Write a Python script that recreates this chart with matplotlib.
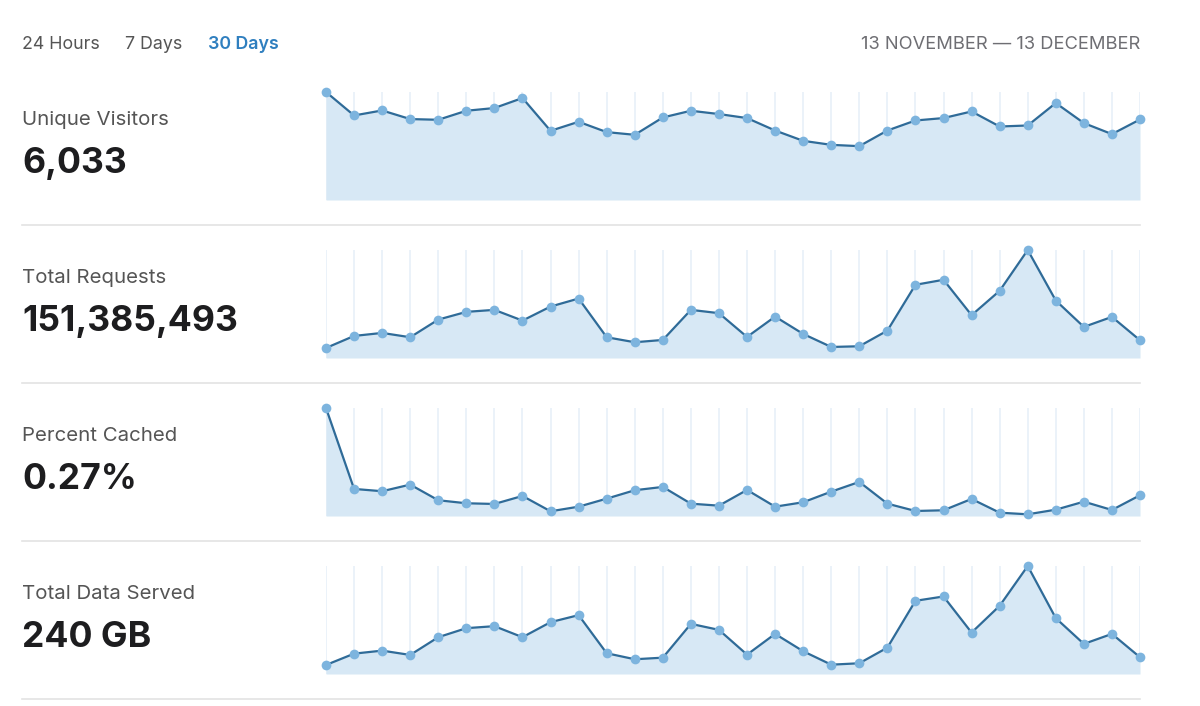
import numpy as np
import matplotlib.pyplot as plt

days = np.arange(30)

unique_visitors = [107.7, 84.3, 89.3, 80.7, 80.0, 89.0, 91.7, 101.7, 69.0, 78.0,
                   67.7, 65.0, 82.3, 89.0, 85.7, 81.7, 69.3, 59.0, 55.0, 53.7,
                   69.3, 79.3, 81.7, 88.3, 73.3, 74.3, 96.7, 76.7, 65.7, 80.3]
total_requests = [10.0, 22.0, 25.0, 20.7, 38.3, 46.0, 48.0, 37.3, 51.3, 59.3,
                  20.7, 15.7, 18.0, 48.0, 44.7, 21.0, 41.3, 24.0, 11.0, 11.7,
                  27.3, 73.0, 78.0, 42.7, 67.0, 107.7, 57.3, 31.0, 41.0, 17.7]
percent_cached = [107.7, 27.0, 24.7, 31.3, 15.7, 12.7, 12.0, 20.0, 4.7, 9.3,
                  17.3, 25.7, 29.0, 12.3, 10.3, 26.0, 9.3, 13.7, 24.3, 34.0,
                  12.3, 5.0, 5.7, 17.0, 3.3, 1.7, 6.3, 14.3, 6.0, 20.7]
total_data = [9.0, 20.3, 23.3, 19.0, 36.7, 45.7, 47.7, 36.7, 51.7, 58.7,
              20.7, 14.7, 16.3, 50.0, 44.0, 19.3, 40.0, 22.7, 9.3, 10.7,
              26.3, 73.0, 77.3, 41.3, 68.0, 107.7, 55.7, 30.0, 40.0, 16.7]

titles = ['Unique Visitors', 'Total Requests', 'Percent Cached', 'Total Data Served']
totals = ['6,033', '151,385,493', '0.27%', '240 GB']
series = [unique_visitors, total_requests, percent_cached, total_data]

tabs = ['24 Hours', '7 Days', '30 Days']
date_range = '13 NOVEMBER \u2014 13 DECEMBER'

# colours
fill_color = '#d7e8f5'
line_color = '#2f6b98'
dot_color = '#7db4de'
grid_color = '#e8f0f8'
text_gray = '#555555'
text_dark = '#1d1d1f'
tab_blue = '#2f7fbf'
sep_color = '#e3e3e3'

plt.rcParams['font.family'] = ['Inter', 'DejaVu Sans']

W, H = 1200, 706
fig = plt.figure(figsize=(W / 100, H / 100), dpi=100)
fig.patch.set_facecolor('white')

def fx(px):
    return px / W

def fy(py):
    return 1 - py / H

# header
tab_x = [22, 125, 208]
for i, t in enumerate(tabs):
    active = (i == 2)
    fig.text(fx(tab_x[i]), fy(49), t, fontsize=12.8, va='baseline', ha='left',
             color=tab_blue if active else text_gray,
             fontweight='semibold' if active else 'normal')
fig.text(fx(1140), fy(49), date_range, fontsize=13.2, va='baseline', ha='right',
         color='#6e6e73')

# rows
left, right = 326, 1140
row_gap = 158
for i in range(4):
    base = 200 + i * row_gap
    vals = series[i]
    top = max(vals)
    ax = fig.add_axes([fx(left), fy(base), fx(right - left), 108 / H])
    ax.vlines(days, 0, top, color=grid_color, linewidth=1.2, zorder=0)
    ax.fill_between(days, vals, 0, color=fill_color, linewidth=0, zorder=1)
    ax.plot(days, vals, color=line_color, linewidth=1.6, zorder=2, clip_on=False)
    ax.plot(days, vals, 'o', color=dot_color, markersize=7, markeredgewidth=0,
            zorder=3, clip_on=False)
    ax.set_xlim(0, 29)
    ax.set_ylim(0, top)
    ax.axis('off')

    fig.text(fx(22), fy(125 + i * row_gap), titles[i], fontsize=14.7, va='baseline',
             ha='left', color=text_gray)
    fig.text(fx(22), fy(173 + i * row_gap), totals[i], fontsize=25.6, va='baseline',
             ha='left', color=text_dark, fontweight='bold')

    # separator line
    sep_y = fy(225 + i * row_gap)
    fig.add_artist(plt.Line2D([fx(22), fx(1140)], [sep_y, sep_y],
                              color=sep_color, linewidth=1.2))

fig.savefig('out.png', dpi=100, facecolor='white')
